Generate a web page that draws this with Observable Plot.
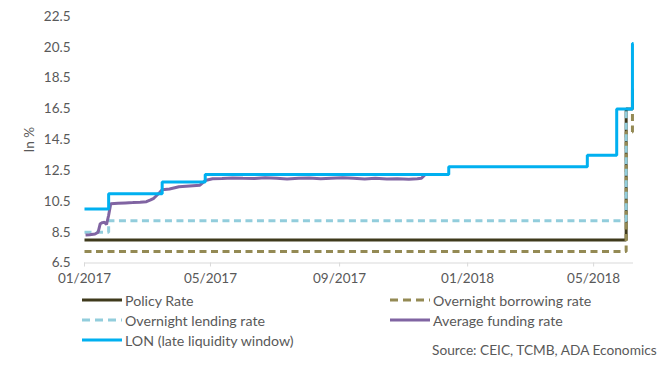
<!DOCTYPE html>
<html>
<head>
<meta charset="utf-8">
<script src="https://cdn.jsdelivr.net/npm/d3@7"></script>
<script src="https://cdn.jsdelivr.net/npm/@observablehq/plot@0.6"></script>
<style>
  body { margin: 0; background: #fff; }
  #wrap { position: relative; width: 663px; height: 367px; font-family: Lato, "Open Sans", sans-serif; color: #595959; }
  .leg { position: absolute; display: flex; align-items: center; font-size: 14.2px; white-space: nowrap; height: 18px; }
  .leg svg { margin-right: 3px; }
  #source { position: absolute; font-size: 13.7px; white-space: nowrap; }
</style>
</head>
<body>
<div id="wrap"></div>
<script>
// ---- Data ----
const seriesNames = ["Policy Rate", "Overnight borrowing rate", "Overnight lending rate", "Average funding rate", "LON (late liquidity window)"];
const seriesColors = ["#3f3a1c", "#948a54", "#92cddc", "#8064a2", "#00b0f0"];
const seriesDash = [null, "7,4.5", "7,4.5", null, null];

const policyDates = ["2017-01-01", "2018-06-01", "2018-06-07", "2018-06-08"];
const policyValues = [8, 16.5, 17.75, 17.75];

const borrowDates = ["2017-01-01", "2018-06-01", "2018-06-07", "2018-06-08"];
const borrowValues = [7.25, 15, 16.25, 16.25];

const lendingDates = ["2017-01-01", "2017-01-24", "2018-06-01", "2018-06-07"];
const lendingValues = [8.5, 9.25, 16.5, 16.5];

const lonDates = ["2017-01-01", "2017-01-24", "2017-03-16", "2017-04-26", "2017-12-14", "2018-04-25", "2018-05-23", "2018-06-07", "2018-06-08"];
const lonValues = [10, 11, 11.75, 12.25, 12.75, 13.5, 16.5, 20.75, 20.75];

const fundingDates = [
  "2017-01-02", "2017-01-06", "2017-01-11", "2017-01-14", "2017-01-16", "2017-01-18", "2017-01-20", "2017-01-22", "2017-01-24", "2017-01-26",
  "2017-02-02", "2017-02-09", "2017-02-16", "2017-02-23", "2017-03-01", "2017-03-05", "2017-03-08", "2017-03-11", "2017-03-14", "2017-03-16",
  "2017-03-23", "2017-04-01", "2017-04-11", "2017-04-21", "2017-04-26", "2017-05-03", "2017-05-12", "2017-05-22", "2017-06-01", "2017-06-12",
  "2017-06-22", "2017-07-03", "2017-07-13", "2017-07-24", "2017-08-03", "2017-08-14", "2017-08-24", "2017-09-04", "2017-09-14", "2017-09-25",
  "2017-10-05", "2017-10-16", "2017-10-26", "2017-11-06", "2017-11-14", "2017-11-18", "2017-11-21"
];
const fundingValues = [
  8.31, 8.33, 8.38, 8.5, 9.05, 9.12, 9.15, 9.0, 9.6, 10.35,
  10.38, 10.4, 10.42, 10.45, 10.48, 10.6, 10.7, 10.9, 11.1, 11.25,
  11.3, 11.45, 11.5, 11.55, 11.85, 11.97, 11.98, 12.02, 12.0, 11.98,
  12.03, 12.0, 11.95, 12.0, 12.02, 11.97, 12.0, 12.03, 12.0, 11.96,
  12.0, 11.95, 11.97, 11.93, 11.97, 12.0, 12.2
];

const yTicks = [6.5, 8.5, 10.5, 12.5, 14.5, 16.5, 18.5, 20.5, 22.5];
const xTickDates = ["2017-01-01", "2017-05-01", "2017-09-01", "2018-01-01", "2018-05-01"];
const xDomain = ["2017-01-01", "2018-06-08"];

const yLabel = "In %";
const sourceText = "Source: CEIC, TCMB, ADA Economics";

// ---- Build tables ----
const parse = d3.utcParse("%Y-%m-%d");
const toRows = (dates, values) => dates.map((d, i) => ({date: parse(d), value: values[i]}));
const series = [
  toRows(policyDates, policyValues),
  toRows(borrowDates, borrowValues),
  toRows(lendingDates, lendingValues),
  toRows(fundingDates, fundingValues),
  toRows(lonDates, lonValues)
];
const curves = ["step-after", "step-after", "step-after", "linear", "step-after"];

const lineMarks = series.map((rows, i) => Plot.line(rows, {
  x: "date", y: "value", curve: curves[i],
  stroke: seriesColors[i], strokeWidth: 3,
  strokeDasharray: seriesDash[i] || undefined,
  strokeLinejoin: "miter", strokeLinecap: "butt"
}));

const chart = Plot.plot({
  width: 663,
  height: 290,
  marginLeft: 84,
  marginRight: 30,
  marginTop: 16,
  marginBottom: 27.5,
  style: {fontFamily: "Lato, 'Open Sans', sans-serif", fontSize: "13.5px", color: "#595959", background: "#fff"},
  x: {type: "utc", domain: xDomain.map(parse)},
  y: {domain: [yTicks[0], yTicks[yTicks.length - 1]]},
  marks: [
    Plot.ruleY([yTicks[0]], {stroke: "#d9d9d9", strokeWidth: 1}),
    Plot.axisX({ticks: xTickDates.map(parse), tickFormat: d3.utcFormat("%m/%Y"), tickSize: 4, tickPadding: 6, stroke: "#d9d9d9", fill: "#595959", label: null}),
    Plot.axisY({ticks: yTicks, tickFormat: d3.format(".1f"), tickSize: 0, tickPadding: 14, fill: "#595959", label: yLabel, labelAnchor: "center", labelArrow: "none", labelOffset: 60}),
    ...lineMarks
  ]
});

const wrap = document.getElementById("wrap");
chart.style.position = "absolute";
chart.style.left = "0px";
chart.style.top = "0px";
wrap.appendChild(chart);

// ---- Legend (HTML below the SVG) ----
const legendPos = [
  {left: 82, top: 291, w: 40},
  {left: 390, top: 291, w: 40},
  {left: 82, top: 311, w: 40},
  {left: 390, top: 311, w: 40},
  {left: 82, top: 331, w: 40}
];
seriesNames.forEach((name, i) => {
  const p = legendPos[i];
  const item = document.createElement("div");
  item.className = "leg";
  item.style.left = p.left + "px";
  item.style.top = p.top + "px";
  const dash = seriesDash[i] ? ` stroke-dasharray="8,5"` : "";
  item.innerHTML = `<svg width="${p.w}" height="6"><line x1="0" y1="3" x2="${p.w}" y2="3" stroke="${seriesColors[i]}" stroke-width="3"${dash}/></svg><span>${name}</span>`;
  wrap.appendChild(item);
});
const src = document.createElement("div");
src.id = "source";
src.style.left = "432px";
src.style.top = "341px";
src.textContent = sourceText;
wrap.appendChild(src);
</script>
</body>
</html>
